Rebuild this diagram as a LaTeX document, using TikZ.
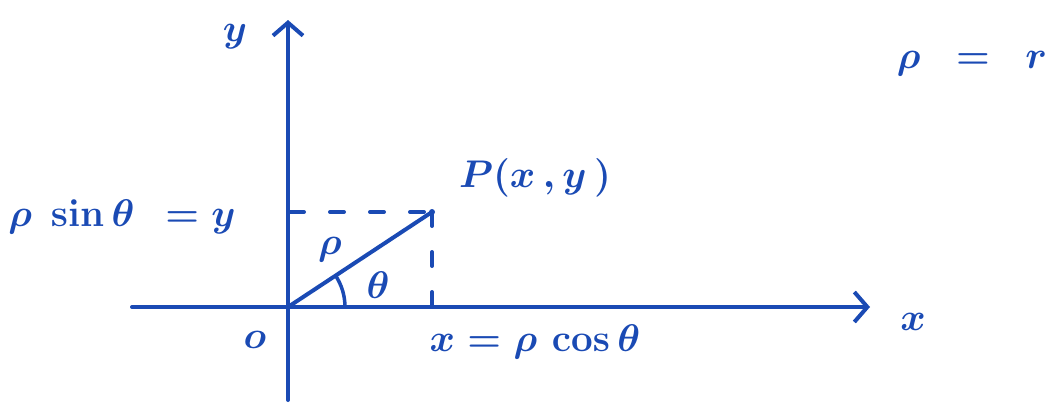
\documentclass[tikz,border=0pt]{standalone}
\usepackage{graphicx}
\usetikzlibrary{arrows.meta,calc}
\definecolor{ink}{RGB}{26,74,180}
\newcommand{\hwtext}[1]{\scalebox{1.55}{#1}}
\begin{document}
\begin{tikzpicture}[x=1pt,y=-1pt,
  stroke/.style={draw=ink,line width=4pt,line cap=round},
  lbl/.style={text=ink,font=\fontsize{24.88}{30}\selectfont\boldmath,inner sep=0pt},
  axarrow/.style={-{Straight Barb[length=13pt,width=30pt,line width=4pt]}}]
\useasboundingbox (0,0) rectangle (1050,405);
\coordinate (O) at (288,307);
\coordinate (P) at (432,212);
\coordinate (Py) at (288,212);
\coordinate (Px) at (432,307);
\coordinate (xl) at (132,307);
\coordinate (xr) at (870,307);
\coordinate (yb) at (288,400);
\coordinate (yt) at (288,20);
\coordinate (A0) at (345,307);
\draw[stroke,axarrow] (xl) -- (xr);
\draw[stroke,axarrow] (yb) -- (yt);
\draw[stroke] (O) -- (P);
\draw[stroke,line width=4pt,dash pattern=on 14pt off 26pt,dash phase=-2pt] (Py) -- (P);
\draw[stroke,line width=4pt,dash pattern=on 14pt off 26pt] (P) -- (Px);
\fill[ink] (P) circle (3pt);
\draw[stroke,line width=3.5pt] (A0) arc[start angle=0,end angle=-33.4,radius=57];
\node[lbl] (ylab) at (235,37) {\hwtext{$y$}};
\node[lbl] (xlab) at (913,322) {\hwtext{$x$}};
\node[lbl] (olab) at (255,340) {\hwtext{$o$}};
\node[lbl] (rholab) at (330,250) {\hwtext{$\rho$}};
\node[lbl] (thlab) at (378,285) {\hwtext{$\theta$}};
\node[lbl] (Plab) at (535,178) {\hwtext{$P(x\,,y\,)$}};
\node[lbl] (sinlab) at (122,217) {\hwtext{$\rho\ \sin\theta\hspace{12pt} = y$}};
\node[lbl] (coslab) at (535,342) {\hwtext{$x = \rho\,\cos\theta$}};
\node[lbl] (rr) at (972,64) {\hwtext{$\rho\ \ =\ \ r$}};
\end{tikzpicture}
\end{document}
